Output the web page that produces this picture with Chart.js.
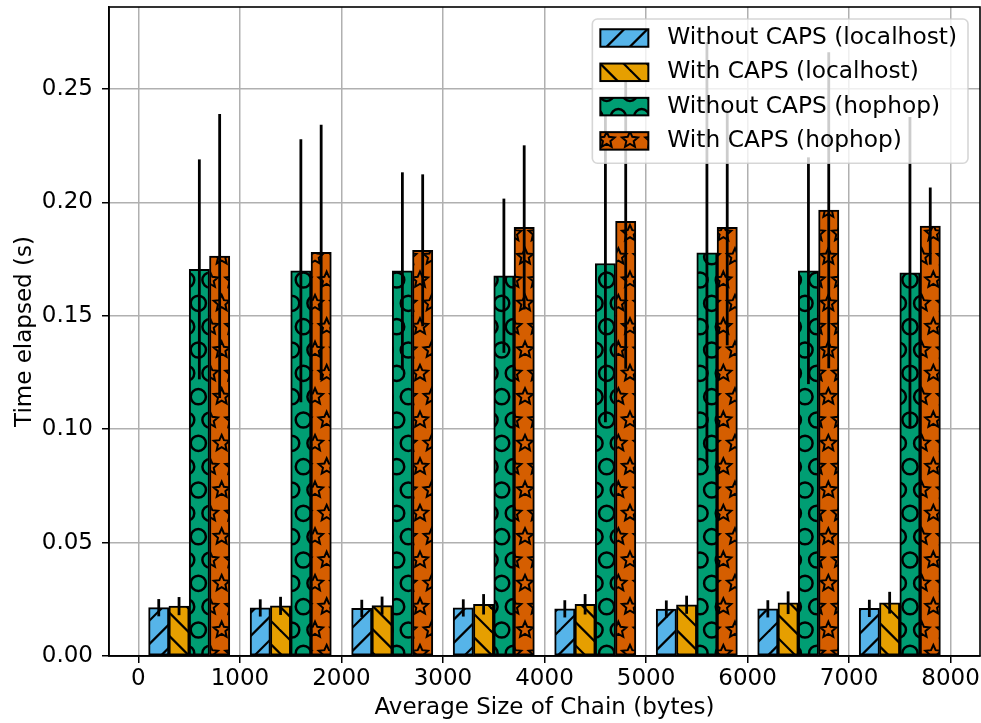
<!DOCTYPE html>
<html>
<head>
<meta charset="utf-8">
<title>Time elapsed vs chain size</title>
<script src="https://cdn.jsdelivr.net/npm/chart.js@4.4.1/dist/chart.umd.min.js"></script>
<style>
  html, body { margin: 0; padding: 0; background: #fff; }
  #wrap { width: 981px; height: 723px; }
</style>
</head>
<body>
<div id="wrap"><canvas id="chart" width="981" height="723"></canvas></div>
<script>
// groups of average chain size (bytes); the 4 bars of a group sit around these
const chainSizes = [500, 1500, 2500, 3500, 4500, 5500, 6500, 7500];
const barSpan = 200; // width of one bar in bytes on the x axis

const seriesLabels = [
  'Without CAPS (localhost)',
  'With CAPS (localhost)',
  'Without CAPS (hophop)',
  'With CAPS (hophop)'
];

// mean time elapsed (s) and error (s)
const noCapsLocal    = [0.0213, 0.0212, 0.0210, 0.0212, 0.0208, 0.0207, 0.0208, 0.0210];
const noCapsLocalErr = [0.0038, 0.0038, 0.0038, 0.0038, 0.0038, 0.0038, 0.0038, 0.0038];
const capsLocal      = [0.0220, 0.0221, 0.0222, 0.0228, 0.0228, 0.0226, 0.0235, 0.0235];
const capsLocalErr   = [0.0040, 0.0040, 0.0040, 0.0045, 0.0045, 0.0040, 0.0050, 0.0048];
const noCapsHop      = [0.1705, 0.1699, 0.1698, 0.1677, 0.1731, 0.1778, 0.1699, 0.1690];
const noCapsHopErr   = [0.0485, 0.0580, 0.0435, 0.0340, 0.0700, 0.0930, 0.0500, 0.0687];
const capsHop        = [0.1764, 0.1780, 0.1789, 0.1890, 0.1917, 0.1890, 0.1966, 0.1896];
const capsHopErr     = [0.0626, 0.0563, 0.0335, 0.0362, 0.0650, 0.0520, 0.0697, 0.0170];

const xTicks = [0, 1000, 2000, 3000, 4000, 5000, 6000, 7000, 8000];
const yTicks = [0, 0.05, 0.10, 0.15, 0.20, 0.25];

const FONT = { family: "'DejaVu Sans', sans-serif", size: 23 };
const LEGEND_FONT_SIZE = 23.3;

// matplotlib-like hatch fills
function makeHatch(bg, kind) {
  const cell = 70 / 3;
  const w = 70, h = 140;
  const c = document.createElement('canvas');
  c.width = w; c.height = h;
  const g = c.getContext('2d');
  g.fillStyle = bg;
  g.fillRect(0, 0, w, h);
  g.strokeStyle = '#000';
  g.lineWidth = 2.2;
  if (kind === '/' || kind === '\\') {
    for (let i = -7; i <= 4; i++) {
      g.beginPath();
      if (kind === '/') {
        g.moveTo(i * cell, h);
        g.lineTo(i * cell + h, 0);
      } else {
        g.moveTo(i * cell, 0);
        g.lineTo(i * cell + h, h);
      }
      g.stroke();
    }
  } else {
    for (let r = -1; r <= 6; r++) {
      for (let col = -1; col <= 3; col++) {
        const x = (col + (r % 2 ? 0.5 : 0)) * cell;
        const y = r * cell;
        g.beginPath();
        if (kind === 'O') {
          g.lineWidth = 2.5;
          g.arc(x, y, 7.6, 0, Math.PI * 2);
        } else {
          g.lineWidth = 2;
          for (let k = 0; k < 10; k++) {
            const rad = k % 2 ? 3.9 : 8.4;
            const a = -Math.PI / 2 + k * Math.PI / 5;
            const px = x + rad * Math.cos(a), py = y + rad * Math.sin(a);
            if (k === 0) g.moveTo(px, py); else g.lineTo(px, py);
          }
          g.closePath();
        }
        g.stroke();
      }
    }
  }
  return g.createPattern(c, 'repeat');
}

const fills = [
  makeHatch('#56B4E9', '/'),
  makeHatch('#E69F00', '\\'),
  makeHatch('#009E73', 'O'),
  makeHatch('#D55E00', '*')
];

const seriesValues = [noCapsLocal, capsLocal, noCapsHop, capsHop];
const seriesErrors = [noCapsLocalErr, capsLocalErr, noCapsHopErr, capsHopErr];

const datasets = seriesLabels.map((label, s) => ({
  label: label,
  data: chainSizes.map((size, i) => ({ x: size + (s - 1.5) * barSpan, y: seriesValues[s][i] })),
  errors: seriesErrors[s],
  backgroundColor: fills[s],
  borderColor: '#000',
  borderWidth: 2,
  borderSkipped: false,
  grouped: false,
  barPercentage: 1,
  categoryPercentage: 1
}));

// error bars, drawn after the grid like matplotlib does
const errorBars = {
  id: 'errorBars',
  afterDraw(chart) {
    const ctx = chart.ctx;
    const yScale = chart.scales.y;
    const area = chart.chartArea;
    ctx.save();
    ctx.beginPath();
    ctx.rect(area.left, area.top, area.right - area.left, area.bottom - area.top);
    ctx.clip();
    ctx.strokeStyle = '#000';
    ctx.lineWidth = 2.8;
    chart.data.datasets.forEach((ds, i) => {
      const meta = chart.getDatasetMeta(i);
      meta.data.forEach((bar, j) => {
        const v = ds.data[j].y, e = ds.errors[j];
        ctx.beginPath();
        ctx.moveTo(bar.x, yScale.getPixelForValue(v + e));
        ctx.lineTo(bar.x, yScale.getPixelForValue(v - e));
        ctx.stroke();
      });
    });
    ctx.restore();

    // top/right spines
    ctx.save();
    ctx.strokeStyle = '#000';
    ctx.lineWidth = 1.6;
    ctx.strokeRect(area.left, area.top, area.right - area.left, area.bottom - area.top);
    ctx.restore();
  }
};

// legend box in the upper right corner
const cornerLegend = {
  id: 'cornerLegend',
  afterDraw(chart) {
    const ctx = chart.ctx;
    const area = chart.chartArea;
    const sets = chart.data.datasets;
    ctx.save();
    ctx.font = LEGEND_FONT_SIZE + 'px ' + FONT.family;
    const textW = Math.max(...sets.map(d => ctx.measureText(d.label).width));
    const pad = 8, patchW = 48, patchH = 17.5, gap = 19, rowH = 34.3;
    const boxW = pad + patchW + gap + textW + 11;
    const boxH = rowH * sets.length + 7;
    const right = area.right - 12, top = area.top + 12;
    const left = right - boxW;

    ctx.beginPath();
    ctx.roundRect(left, top, boxW, boxH, 5);
    ctx.fillStyle = 'rgba(255,255,255,0.8)';
    ctx.fill();
    ctx.strokeStyle = 'rgba(204,204,204,0.8)';
    ctx.lineWidth = 1.6;
    ctx.stroke();

    sets.forEach((d, i) => {
      const cy = top + 19 + i * rowH;
      const px = left + pad;
      ctx.fillStyle = d.backgroundColor;
      ctx.fillRect(px, cy - patchH / 2, patchW, patchH);
      ctx.strokeStyle = '#000';
      ctx.lineWidth = 2;
      ctx.strokeRect(px, cy - patchH / 2, patchW, patchH);
      ctx.fillStyle = '#000';
      ctx.textAlign = 'left';
      ctx.textBaseline = 'middle';
      ctx.fillText(d.label, px + patchW + gap, cy);
    });
    ctx.restore();
  }
};

new Chart(document.getElementById('chart'), {
  type: 'bar',
  data: { datasets: datasets },
  plugins: [errorBars, cornerLegend],
  options: {
    responsive: false,
    animation: false,
    devicePixelRatio: 1,
    events: [],
    layout: { padding: { top: 7, right: 1, left: 0, bottom: 0 }, autoPadding: false },
    plugins: {
      legend: { display: false },
      tooltip: { enabled: false }
    },
    scales: {
      x: {
        type: 'linear',
        min: -290,
        max: 8290,
        offset: false,
        z: 1,
        grid: { color: '#b0b0b0', lineWidth: 1.5, tickColor: '#000', tickLength: 7, tickWidth: 1.5, offset: false },
        border: { color: '#000', width: 1.6 },
        afterBuildTicks: s => { s.ticks = xTicks.map(v => ({ value: v })); },
        afterFit: s => { s.height = 67; s.paddingLeft = 0; s.paddingRight = 0; },
        ticks: {
          font: FONT, color: '#000', padding: 2, maxRotation: 0, autoSkip: false,
          callback: v => String(v)
        },
        title: {
          display: true, text: 'Average Size of Chain (bytes)', font: FONT, color: '#000',
          padding: { top: 0, bottom: 1 }
        }
      },
      y: {
        min: 0,
        max: 0.2862,
        z: 1,
        grid: { color: '#b0b0b0', lineWidth: 1.5, tickColor: '#000', tickLength: 7, tickWidth: 1.5 },
        border: { color: '#000', width: 1.6 },
        afterBuildTicks: s => { s.ticks = yTicks.map(v => ({ value: v })); },
        afterFit: s => { s.width = 109; s.paddingTop = 0; s.paddingBottom = 0; },
        ticks: {
          font: FONT, color: '#000', padding: 9,
          callback: v => v.toFixed(2)
        },
        title: {
          display: true, text: 'Time elapsed (s)', font: FONT, color: '#000',
          padding: { top: 11.5, bottom: 0 }
        }
      }
    }
  }
});
</script>
</body>
</html>
